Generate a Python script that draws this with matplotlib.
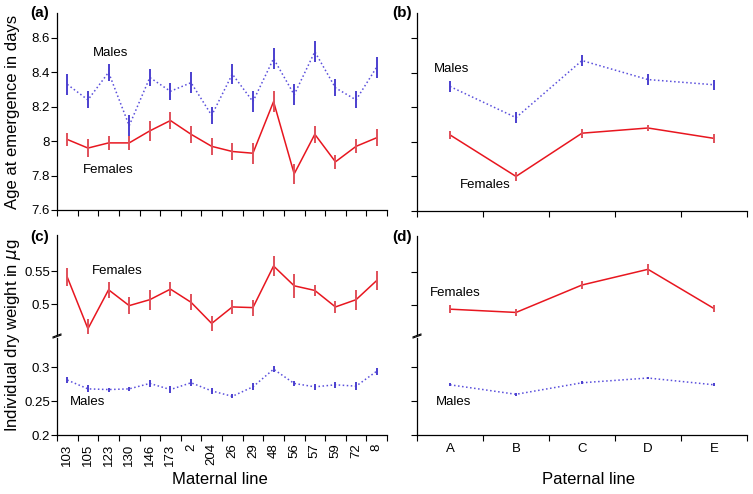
import numpy as np
import matplotlib
matplotlib.use("Agg")
import matplotlib.pyplot as plt

plt.rcParams['font.family'] = ['Liberation Sans', 'DejaVu Sans']

# maternal lines (panels a, c)
maternal = ['103', '105', '123', '130', '146', '173', '2', '204', '26', '29',
            '48', '56', '57', '59', '72', '8']
# paternal lines (panels b, d)
paternal = ['A', 'B', 'C', 'D', 'E']

# (a) age at emergence by maternal line
age_m_mat = [8.33, 8.24, 8.40, 8.09, 8.37, 8.29, 8.34, 8.15, 8.39, 8.23,
             8.48, 8.27, 8.52, 8.31, 8.24, 8.43]
age_m_mat_err = [0.06, 0.05, 0.05, 0.06, 0.05, 0.05, 0.06, 0.05, 0.06, 0.06,
                 0.06, 0.06, 0.06, 0.05, 0.05, 0.06]
age_f_mat = [8.01, 7.96, 7.99, 7.99, 8.06, 8.12, 8.04, 7.97, 7.94, 7.93,
             8.23, 7.81, 8.04, 7.88, 7.97, 8.02]
age_f_mat_err = [0.04, 0.05, 0.04, 0.04, 0.06, 0.05, 0.05, 0.05, 0.05, 0.06,
                 0.06, 0.06, 0.05, 0.04, 0.04, 0.05]

# (b) age at emergence by paternal line
age_m_pat = [8.32, 8.14, 8.47, 8.36, 8.33]
age_m_pat_err = [0.03, 0.03, 0.03, 0.03, 0.03]
age_f_pat = [8.04, 7.80, 8.05, 8.08, 8.02]
age_f_pat_err = [0.025, 0.025, 0.025, 0.02, 0.025]

# (c) dry weight by maternal line
wt_f_mat = [0.541, 0.463, 0.522, 0.498, 0.507, 0.523, 0.503, 0.471, 0.496, 0.495,
            0.558, 0.528, 0.521, 0.496, 0.507, 0.536]
wt_f_mat_err = [0.014, 0.015, 0.012, 0.013, 0.015, 0.011, 0.012, 0.012, 0.011, 0.012,
                0.015, 0.018, 0.008, 0.009, 0.015, 0.015]
wt_m_mat = [0.281, 0.268, 0.267, 0.268, 0.276, 0.267, 0.277, 0.265, 0.257, 0.271,
            0.297, 0.276, 0.271, 0.274, 0.272, 0.294]
wt_m_mat_err = [0.005, 0.005, 0.003, 0.003, 0.005, 0.005, 0.005, 0.005, 0.003, 0.005,
                0.004, 0.004, 0.004, 0.004, 0.006, 0.005]

# (d) dry weight by paternal line
wt_f_pat = [0.493, 0.488, 0.530, 0.554, 0.494]
wt_f_pat_err = [0.006, 0.005, 0.006, 0.008, 0.006]
wt_m_pat = [0.274, 0.260, 0.277, 0.284, 0.274]
wt_m_pat_err = [0.002, 0.002, 0.002, 0.002, 0.002]

W, H = 753, 494
fig = plt.figure(figsize=(W / 100, H / 100), dpi=100)


def add_ax(x0, y0, x1, y1):
    return fig.add_axes([x0 / W, 1 - y1 / H, (x1 - x0) / W, (y1 - y0) / H])


MALE = '#5a4fdc'
MALE_E = '#4b3fcf'
FEM = '#e8161f'
FEM_E = '#e0505a'


def males(ax, vals, errs):
    x = np.arange(len(vals))
    ax.plot(x, vals, ls=':', color=MALE, lw=1.1)
    ax.errorbar(x, vals, yerr=errs, fmt='none', ecolor=MALE_E, elinewidth=1.4, capsize=0)


def females(ax, vals, errs):
    x = np.arange(len(vals))
    ax.plot(x, vals, ls='-', color=FEM, lw=1.1)
    ax.errorbar(x, vals, yerr=errs, fmt='none', ecolor=FEM_E, elinewidth=1.4, capsize=0)


def style(ax, n, labels=None, rot=0, bottom=True):
    ax.spines['top'].set_visible(False)
    ax.spines['right'].set_visible(False)
    ax.set_xlim(-0.5, n - 0.5)
    ax.tick_params(axis='y', direction='out', length=4, width=0.8, labelsize=9.5, pad=1)
    if bottom:
        ax.set_xticks(np.arange(n))
        ax.set_xticks(np.arange(n + 1) - 0.5, minor=True)
        ax.tick_params(axis='x', which='major', length=0, labelsize=9.5, pad=6)
        ax.tick_params(axis='x', which='minor', length=4, width=0.8)
        if labels is not None:
            ax.set_xticklabels(labels, rotation=rot)
        else:
            ax.set_xticklabels([])
    else:
        ax.spines['bottom'].set_visible(False)
        ax.set_xticks([])
    for s in ax.spines.values():
        s.set_linewidth(0.9)


def break_marks(ax_up, ax_lo):
    kw = dict(color='k', lw=0.8, clip_on=False)
    d = 0.012
    ax_up.plot([-d, d], [-0.03, 0.0], transform=ax_up.transAxes, **kw)
    ax_lo.plot([-d, d], [1.0, 1.03], transform=ax_lo.transAxes, **kw)


# ---- (a)
ax_a = add_ax(57, 13, 387, 210)
males(ax_a, age_m_mat, age_m_mat_err)
females(ax_a, age_f_mat, age_f_mat_err)
style(ax_a, len(maternal))
ax_a.set_ylim(7.6, 8.745)
ax_a.set_yticks([7.6, 7.8, 8.0, 8.2, 8.4, 8.6])
ax_a.set_yticklabels(['7.6', '7.8', '8', '8.2', '8.4', '8.6'])
ax_a.text(2.1, 8.515, 'Males', fontsize=9.5, ha='center', va='center')
ax_a.text(2.0, 7.833, 'Females', fontsize=9.5, ha='center', va='center')

# ---- (b)
ax_b = add_ax(417, 13, 747, 211)
males(ax_b, age_m_pat, age_m_pat_err)
females(ax_b, age_f_pat, age_f_pat_err)
style(ax_b, len(paternal))
ax_b.set_ylim(7.6, 8.745)
ax_b.set_yticks([7.6, 7.8, 8.0, 8.2, 8.4, 8.6])
ax_b.set_yticklabels([])
ax_b.text(0.03, 8.42, 'Males', fontsize=9.5, ha='center', va='center')
ax_b.text(0.53, 7.75, 'Females', fontsize=9.5, ha='center', va='center')

# ---- (c) broken axis
ax_cu = add_ax(57, 235, 387, 334)
ax_cl = add_ax(57, 338, 387, 435)
females(ax_cu, wt_f_mat, wt_f_mat_err)
males(ax_cl, wt_m_mat, wt_m_mat_err)
style(ax_cu, len(maternal), bottom=False)
style(ax_cl, len(maternal), labels=maternal, rot=90)
ax_cu.set_ylim(0.455, 0.605)
ax_cu.set_yticks([0.5, 0.55])
ax_cu.set_yticklabels(['0.5', '0.55'])
ax_cl.set_ylim(0.2, 0.343)
ax_cl.set_yticks([0.2, 0.25, 0.3])
ax_cl.set_yticklabels(['0.2', '0.25', '0.3'])
break_marks(ax_cu, ax_cl)
ax_cu.text(2.43, 0.551, 'Females', fontsize=9.5, ha='center', va='center')
ax_cl.text(0.98, 0.248, 'Males', fontsize=9.5, ha='center', va='center')

# ---- (d) broken axis
ax_du = add_ax(417, 236, 747, 334)
ax_dl = add_ax(417, 338, 747, 435)
females(ax_du, wt_f_pat, wt_f_pat_err)
males(ax_dl, wt_m_pat, wt_m_pat_err)
style(ax_du, len(paternal), bottom=False)
style(ax_dl, len(paternal), labels=paternal)
ax_du.set_ylim(0.455, 0.605)
ax_du.set_yticks([0.5, 0.55])
ax_du.set_yticklabels([])
ax_dl.set_ylim(0.2, 0.343)
ax_dl.set_yticks([0.2, 0.25, 0.3])
ax_dl.set_yticklabels([])
break_marks(ax_du, ax_dl)
ax_du.text(0.08, 0.518, 'Females', fontsize=9.5, ha='center', va='center')
ax_dl.text(0.05, 0.248, 'Males', fontsize=9.5, ha='center', va='center')

# axis titles
fig.text(13 / W, 1 - 112 / H, 'Age at emergence in days', rotation=90,
         fontsize=12, ha='center', va='center')
fig.text(13 / W, 1 - 335 / H, r'Individual dry weight in $\mu$g', rotation=90,
         fontsize=12, ha='center', va='center')
fig.text(220 / W, 1 - 479 / H, 'Maternal line', fontsize=12, ha='center', va='center')
fig.text(588 / W, 1 - 479 / H, 'Paternal line', fontsize=12, ha='center', va='center')

# panel letters
for lab, (px, py) in zip(['(a)', '(b)', '(c)', '(d)'],
                         [(40, 13), (402, 13), (40, 237), (402, 237)]):
    fig.text(px / W, 1 - py / H, lab, fontsize=11, fontweight='bold',
             ha='center', va='center')

fig.savefig('out.png', dpi=100)
